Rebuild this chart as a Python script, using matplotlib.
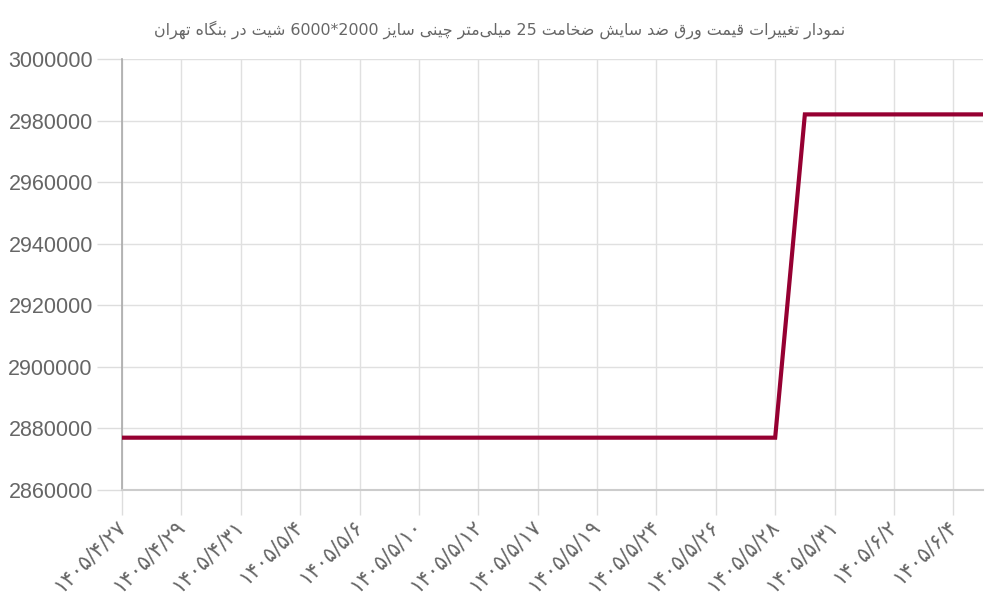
import re
import numpy as np
import matplotlib
matplotlib.use("Agg")
import matplotlib.pyplot as plt

# ---- data ----
title_text = "نمودار تغییرات قیمت ورق ضد سایش ضخامت 25 میلی\u200cمتر چینی سایز 2000*6000 شیت در بنگاه تهران"

dates = ['1405/4/27', '1405/4/28', '1405/4/29', '1405/4/30', '1405/4/31',
         '1405/5/1', '1405/5/4', '1405/5/5', '1405/5/6', '1405/5/7',
         '1405/5/10', '1405/5/11', '1405/5/12', '1405/5/14', '1405/5/17',
         '1405/5/18', '1405/5/19', '1405/5/21', '1405/5/24', '1405/5/25',
         '1405/5/26', '1405/5/27', '1405/5/28', '1405/5/29', '1405/5/31',
         '1405/6/1', '1405/6/2', '1405/6/3', '1405/6/4', '1405/6/5']

prices = [2877000, 2877000, 2877000, 2877000, 2877000,
          2877000, 2877000, 2877000, 2877000, 2877000,
          2877000, 2877000, 2877000, 2877000, 2877000,
          2877000, 2877000, 2877000, 2877000, 2877000,
          2877000, 2877000, 2877000, 2982000, 2982000,
          2982000, 2982000, 2982000, 2982000, 2982000]

y_ticks = [2860000, 2880000, 2900000, 2920000, 2940000, 2960000, 2980000, 3000000]

# ---- minimal persian shaping (matplotlib has no bidi / joining) ----
# char: (isolated, final, initial, medial); two-form letters only join to the right
FORMS = {
    'ا': ('\uFE8D', '\uFE8E'), 'آ': ('\uFE81', '\uFE82'),
    'د': ('\uFEA9', '\uFEAA'), 'ذ': ('\uFEAB', '\uFEAC'),
    'ر': ('\uFEAD', '\uFEAE'), 'ز': ('\uFEAF', '\uFEB0'),
    'ژ': ('\uFB8A', '\uFB8B'), 'و': ('\uFEED', '\uFEEE'),
    'ب': ('\uFE8F', '\uFE90', '\uFE91', '\uFE92'),
    'پ': ('\uFB56', '\uFB57', '\uFB58', '\uFB59'),
    'ت': ('\uFE95', '\uFE96', '\uFE97', '\uFE98'),
    'ث': ('\uFE99', '\uFE9A', '\uFE9B', '\uFE9C'),
    'ج': ('\uFE9D', '\uFE9E', '\uFE9F', '\uFEA0'),
    'چ': ('\uFB7A', '\uFB7B', '\uFB7C', '\uFB7D'),
    'ح': ('\uFEA1', '\uFEA2', '\uFEA3', '\uFEA4'),
    'خ': ('\uFEA5', '\uFEA6', '\uFEA7', '\uFEA8'),
    'س': ('\uFEB1', '\uFEB2', '\uFEB3', '\uFEB4'),
    'ش': ('\uFEB5', '\uFEB6', '\uFEB7', '\uFEB8'),
    'ص': ('\uFEB9', '\uFEBA', '\uFEBB', '\uFEBC'),
    'ض': ('\uFEBD', '\uFEBE', '\uFEBF', '\uFEC0'),
    'ط': ('\uFEC1', '\uFEC2', '\uFEC3', '\uFEC4'),
    'ظ': ('\uFEC5', '\uFEC6', '\uFEC7', '\uFEC8'),
    'ع': ('\uFEC9', '\uFECA', '\uFECB', '\uFECC'),
    'غ': ('\uFECD', '\uFECE', '\uFECF', '\uFED0'),
    'ف': ('\uFED1', '\uFED2', '\uFED3', '\uFED4'),
    'ق': ('\uFED5', '\uFED6', '\uFED7', '\uFED8'),
    'ک': ('\uFB8E', '\uFB8F', '\uFB90', '\uFB91'),
    'گ': ('\uFB92', '\uFB93', '\uFB94', '\uFB95'),
    'ل': ('\uFEDD', '\uFEDE', '\uFEDF', '\uFEE0'),
    'م': ('\uFEE1', '\uFEE2', '\uFEE3', '\uFEE4'),
    'ن': ('\uFEE5', '\uFEE6', '\uFEE7', '\uFEE8'),
    'ه': ('\uFEE9', '\uFEEA', '\uFEEB', '\uFEEC'),
    'ی': ('\uFBFC', '\uFBFD', '\uFBFE', '\uFBFF'),
}


def shape_word(word):
    out = []
    for i, c in enumerate(word):
        if c not in FORMS:
            if c != '\u200c':
                out.append(c)
            continue
        prev = word[i - 1] if i > 0 else ''
        nxt = word[i + 1] if i + 1 < len(word) else ''
        join_prev = prev in FORMS and len(FORMS[prev]) == 4
        join_next = len(FORMS[c]) == 4 and nxt in FORMS
        f = FORMS[c]
        if join_prev and join_next:
            out.append(f[3])
        elif join_prev:
            out.append(f[1])
        elif join_next:
            out.append(f[2])
        else:
            out.append(f[0])
    return ''.join(reversed(out))


def rtl(text):
    parts = []
    for tok in reversed(text.split(' ')):
        if any(ch in FORMS for ch in tok):
            parts.append(shape_word(tok))
        else:
            segs = re.split(r'(\D)', tok)
            parts.append(''.join(reversed(segs)))
    return ' '.join(parts)


fa_digits = str.maketrans('0123456789', '۰۱۲۳۴۵۶۷۸۹')
x = np.arange(len(dates))
x_labels = [d.translate(fa_digits) for d in dates]

# ---- plot ----
fig = plt.figure(figsize=(10, 6), dpi=100)
ax = fig.add_axes([0.122, 0.1833, 0.861, 0.7184])

ax.plot(x, prices, color='#960032', linewidth=3, solid_joinstyle='miter', zorder=3)

ax.set_xlim(0, len(dates) - 1)
ax.set_ylim(y_ticks[0], y_ticks[-1])
ax.set_yticks(y_ticks)
ax.set_yticklabels([str(v) for v in y_ticks])
ax.set_xticks(x[::2])
ax.set_xticklabels(x_labels[::2], rotation=45, ha='right', va='center',
                   rotation_mode='anchor', family='DejaVu Sans',
                   fontsize=15, color='#666666')

ax.grid(True, color='#e0e0e0', linewidth=1)
ax.tick_params(axis='y', length=18, width=1, color='#dddddd', pad=3,
               labelsize=15.5, labelcolor='#666666')
ax.tick_params(axis='x', length=18, width=1, color='#dddddd', pad=6)
for lab in ax.get_yticklabels():
    lab.set_family('Liberation Sans')

for s in ['top', 'right']:
    ax.spines[s].set_visible(False)
ax.spines['left'].set_color('#aaaaaa')
ax.spines['left'].set_linewidth(1.2)
ax.spines['bottom'].set_color('#cccccc')
ax.spines['bottom'].set_linewidth(1.5)

fig.text(0.5, 0.95, rtl(title_text), ha='center', va='center',
         fontsize=11.4, color='#666666', family='DejaVu Sans')

fig.savefig('out.png', dpi=100)
